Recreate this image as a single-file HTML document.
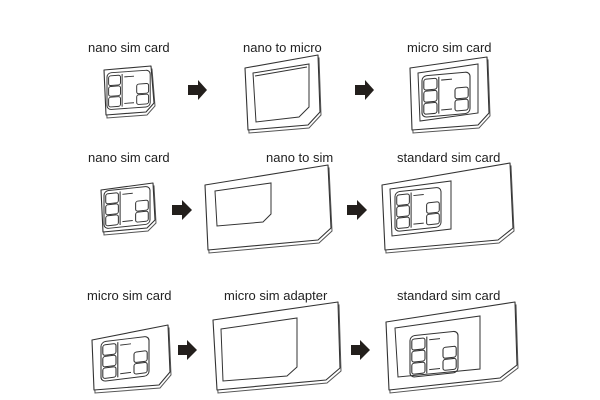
<!DOCTYPE html>
<html><head><meta charset="utf-8"><style>
html,body{margin:0;padding:0;background:#fff;width:600px;height:400px;overflow:hidden}
svg{display:block}
text{font-family:"Liberation Sans",sans-serif;font-size:13px;fill:#222}
.c{fill:#fff;stroke:#333;stroke-width:1.1;stroke-linejoin:round}
.t{fill:#fff;stroke:#555;stroke-width:1}
.w{fill:none;stroke:#333;stroke-width:1}
.a{fill:#231f1c}
</style></head><body>
<svg width="600" height="400" viewBox="0 0 600 400">
<defs>
<g id="chip" fill="none" stroke="#333" stroke-width="0.9">
<rect x="0" y="0" width="40" height="36" rx="4"/>
<rect x="1.5" y="3" width="11" height="9.5" rx="2"/>
<rect x="1.5" y="13.5" width="11" height="9.5" rx="2"/>
<rect x="1.5" y="24" width="11" height="9.5" rx="2"/>
<rect x="27.5" y="13" width="11" height="9.5" rx="2"/>
<rect x="27.5" y="23.5" width="11" height="9.5" rx="2"/>
<line x1="16" y1="5" x2="25" y2="5"/>
<line x1="16" y1="31" x2="25" y2="31"/>
<line x1="14" y1="2" x2="14" y2="34"/>
</g>
</defs>

<text x="88" y="52">nano sim card</text>
<text x="243" y="52">nano to micro</text>
<text x="407" y="52">micro sim card</text>
<text x="88" y="162">nano sim card</text>
<text x="266" y="162">nano to sim</text>
<text x="397" y="162">standard sim card</text>
<text x="87" y="300">micro sim card</text>
<text x="224" y="300">micro sim adapter</text>
<text x="397" y="300">standard sim card</text>

<!-- Row 1 -->
<polygon class="t" points="105,73 152,69 155,106 147,115 107,118"/>
<polygon class="c" points="104,70 151,66 154,103 146,112 106,115"/>
<use href="#chip" transform="translate(107,73) skewY(-4) scale(1.08,1.02)"/>
<polygon class="a" points="188,85 198,85 198,80 207,90 198,100 198,95 188,95"/>
<polygon class="t" points="246,71 319,58 321,115 309,128 249,133"/>
<polygon class="c" points="245,68 318,55 320,112 308,125 248,130"/>
<polygon class="w" points="253,73 309,64 309,107 299,117 256,122"/>
<polygon class="w" points="255,76 307,67"/>
<polygon class="a" points="355,85 365,85 365,80 374,90 365,100 365,95 355,95"/>
<polygon class="t" points="411,71 488,60 490,116 479,128 413,133"/>
<polygon class="c" points="410,68 487,57 489,113 478,125 412,130"/>
<polygon class="w" points="418,73 478,64 478,113 420,121"/>
<use href="#chip" transform="translate(422,76) skewY(-5) scale(1.2,1.15)"/>

<!-- Row 2 -->
<polygon class="t" points="102,193 154,186 156,223 148,231 104,235"/>
<polygon class="c" points="101,190 153,183 155,220 147,228 103,232"/>
<use href="#chip" transform="translate(104,191) skewY(-6) scale(1.15,1.05)"/>
<polygon class="a" points="172,205 182,205 182,200 192,210 182,220 182,215 172,215"/>
<polygon class="t" points="206,188 329,168 332,231 319,243 209,253"/>
<polygon class="c" points="205,185 328,165 331,228 318,240 208,250"/>
<polygon class="w" points="215,191 271,183 271,214 263,222 217,226"/>
<polygon class="a" points="347,205 357,205 357,200 367,210 357,220 357,215 347,215"/>
<polygon class="t" points="383,188 511,166 514,231 499,243 386,253"/>
<polygon class="c" points="382,185 510,163 513,228 498,240 385,250"/>
<polygon class="w" points="390,189 451,181 451,229 392,236"/>
<use href="#chip" transform="translate(395,192) skewY(-6) scale(1.15,1.1)"/>

<!-- Row 3 -->
<polygon class="t" points="93,343 169,328 171,375 160,388 95,393"/>
<polygon class="c" points="92,340 168,325 170,372 159,385 94,390"/>
<use href="#chip" transform="translate(101,342) skewY(-7) scale(1.2,1.1)"/>
<polygon class="a" points="178,345 187,345 187,340 197,350 187,360 187,355 178,355"/>
<polygon class="t" points="214,323 339,305 341,371 327,383 218,393"/>
<polygon class="c" points="213,320 338,302 340,368 326,380 217,390"/>
<polygon class="w" points="221,329 297,318 297,367 287,376 223,381"/>
<polygon class="a" points="351,345 360,345 360,340 370,350 360,360 360,355 351,355"/>
<polygon class="t" points="387,325 516,305 518,368 501,381 390,393"/>
<polygon class="c" points="386,322 515,302 517,365 500,378 389,390"/>
<polygon class="w" points="395,328 480,316 480,369 398,377"/>
<use href="#chip" transform="translate(410,336) skewY(-6) scale(1.2,1.15)"/>
</svg>
</body></html>
